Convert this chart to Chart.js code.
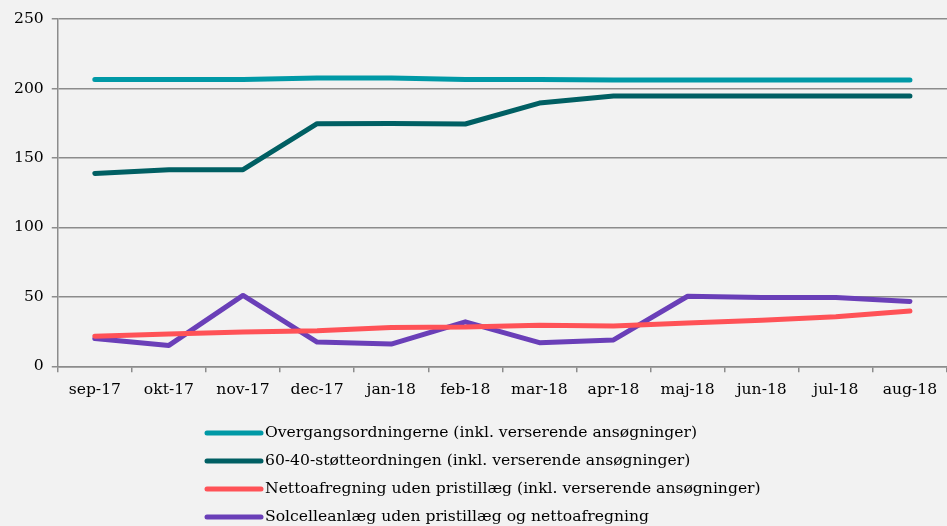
<!DOCTYPE html>
<html>
<head>
<meta charset="utf-8">
<script src="https://cdn.jsdelivr.net/npm/chart.js@4.4.0/dist/chart.umd.min.js"></script>
<style>
  html, body { margin: 0; padding: 0; background: #f2f2f2; }
  #wrap { width: 947px; height: 526px; }
</style>
</head>
<body>
<div id="wrap"><canvas id="c" width="947" height="526"></canvas></div>
<script>
const months = ['sep-17', 'okt-17', 'nov-17', 'dec-17', 'jan-18', 'feb-18', 'mar-18', 'apr-18', 'maj-18', 'jun-18', 'jul-18', 'aug-18'];

const overgang = [206.5, 206.5, 206.5, 207.5, 207.5, 206.5, 206.5, 206, 206, 206, 206, 206];
const stoette6040 = [138.8, 141.5, 141.5, 174.6, 174.8, 174.4, 189.5, 194.6, 194.6, 194.6, 194.6, 194.6];
const netto = [21.7, 23.2, 24.6, 25.6, 28, 28.2, 29.6, 29, 31.2, 33.2, 35.6, 39.8];
const solcelle = [20, 15, 51, 17.4, 16, 32, 17, 19, 50.4, 49.5, 49.6, 46.7];

const seriesNames = [
    'Overgangsordningerne (inkl. verserende ansøgninger)',
    '60-40-støtteordningen (inkl. verserende ansøgninger)',
    'Nettoafregning uden pristillæg (inkl. verserende ansøgninger)',
    'Solcelleanlæg uden pristillæg og nettoafregning'
];
const seriesColors = ['#0099a6', '#005f63', '#ff5257', '#6a3fb8'];
const seriesData = [overgang, stoette6040, netto, solcelle];

const fontFamily = "'DejaVu Serif', 'Liberation Serif', serif";

// Legende als Liste unter dem Diagramm, links ausgerichtet
const listLegend = {
    id: 'listLegend',
    afterDraw(chart) {
        const ctx = chart.ctx;
        ctx.save();
        ctx.font = '15.6px ' + fontFamily;
        ctx.textBaseline = 'middle';
        ctx.fillStyle = '#000';
        chart.data.datasets.forEach(function(ds, i) {
            const y = 433 + i * 28;
            ctx.beginPath();
            ctx.lineWidth = 5;
            ctx.lineCap = 'round';
            ctx.strokeStyle = ds.borderColor;
            ctx.moveTo(207, y);
            ctx.lineTo(261, y);
            ctx.stroke();
            ctx.fillText(ds.label, 265, y);
        });
        ctx.restore();
    }
};

const bgPlugin = {
    id: 'bg',
    beforeDraw(chart) {
        const ctx = chart.ctx;
        ctx.save();
        ctx.fillStyle = '#f2f2f2';
        ctx.fillRect(0, 0, chart.width, chart.height);
        ctx.restore();
    }
};

const datasets = seriesData.map(function(d, i) {
    return {
        label: seriesNames[i],
        data: d,
        borderColor: seriesColors[i],
        backgroundColor: seriesColors[i],
        borderWidth: 5,
        borderCapStyle: 'round',
        borderJoinStyle: 'round',
        pointRadius: 0,
        tension: 0,
        fill: false
    };
});

new Chart(document.getElementById('c').getContext('2d'), {
    type: 'line',
    data: { labels: months, datasets: datasets },
    options: {
        responsive: false,
        animation: false,
        layout: { padding: { top: 19, right: 0, bottom: 119, left: 6 } },
        plugins: {
            legend: { display: false },
            tooltip: { enabled: false }
        },
        scales: {
            x: {
                offset: true,
                grid: {
                    offset: true,
                    drawOnChartArea: false,
                    drawTicks: true,
                    tickLength: 6,
                    color: '#8c8c8c',
                    lineWidth: 1.5
                },
                border: { color: '#8c8c8c', width: 1.5 },
                ticks: {
                    color: '#000',
                    font: { family: fontFamily, size: 15.6 },
                    maxRotation: 0,
                    autoSkip: false,
                    padding: 8
                }
            },
            y: {
                min: 0,
                max: 250,
                ticks: {
                    stepSize: 50,
                    color: '#000',
                    font: { family: fontFamily, size: 15.6 },
                    padding: 8
                },
                grid: {
                    color: '#8c8c8c',
                    lineWidth: 1.5,
                    tickLength: 6
                },
                border: { color: '#8c8c8c', width: 1.5 }
            }
        }
    },
    plugins: [bgPlugin, listLegend]
});
</script>
</body>
</html>
